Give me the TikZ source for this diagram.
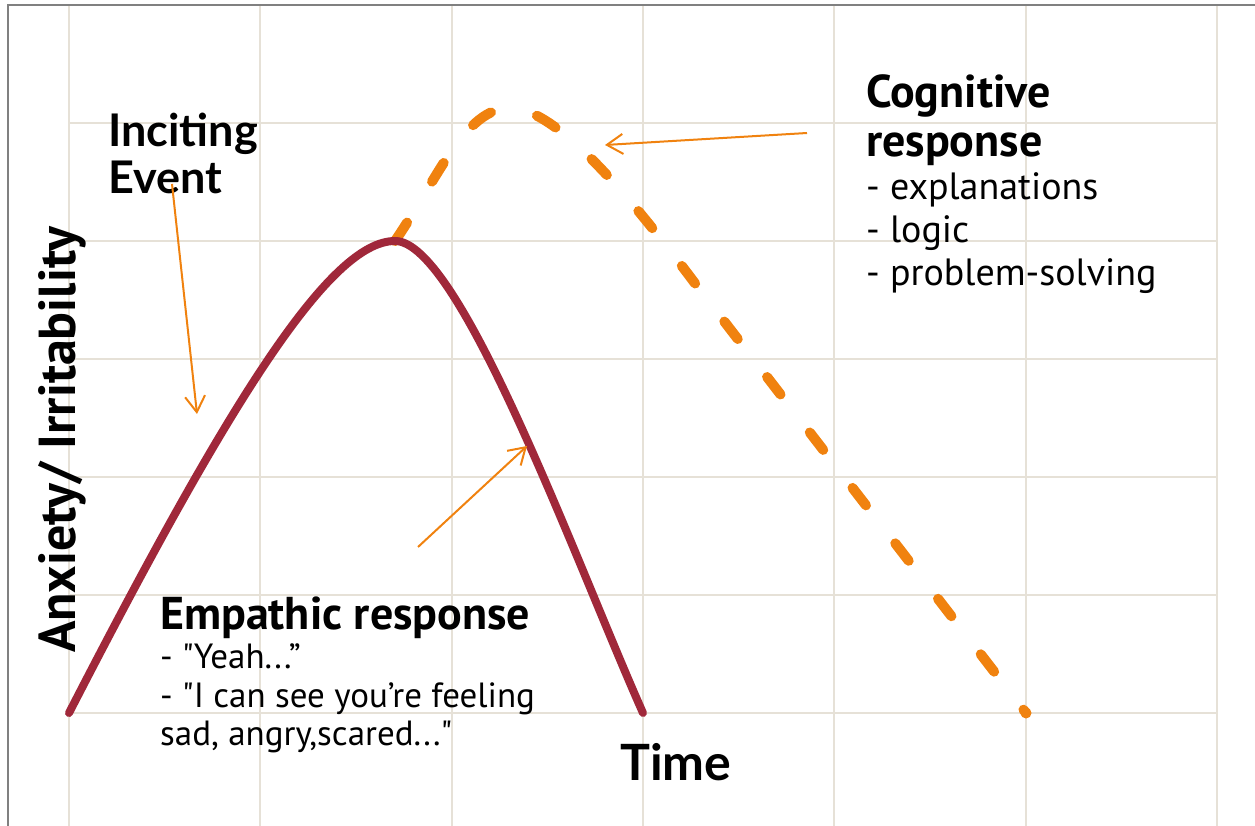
\documentclass[tikz,border=0pt]{standalone}
\usepackage{fontspec}
\setmainfont{PT Sans}
\newfontfamily\latofont{Lato}
\usetikzlibrary{arrows.meta}
\definecolor{gridc}{RGB}{230,225,215}
\definecolor{framec}{RGB}{128,128,128}
\definecolor{curvered}{RGB}{160,40,58}
\definecolor{curveorange}{RGB}{240,130,15}
\begin{document}
\begin{tikzpicture}[x=1pt,y=-1pt,
  gridline/.style={draw=gridc,line width=2pt},
  pointer/.style={draw=curveorange,line width=2pt,-{Straight Barb[length=16pt,width=20pt]}},
  heading/.style={anchor=base west,inner sep=0pt,font=\bfseries\fontsize{46}{46}\selectfont},
  item/.style={anchor=base west,inner sep=0pt,font=\fontsize{38}{38}\selectfont},
  smallitem/.style={anchor=base west,inner sep=0pt,font=\fontsize{35}{35}\selectfont},
  lato/.style={anchor=base west,inner sep=0pt,font=\latofont\bfseries\fontsize{45}{45}\selectfont}]
\useasboundingbox (0,0) rectangle (1255,826);
% background grid
\foreach \x in {69,260,452,643,834,1026,1217}
  \draw[gridline] (\x,5) -- (\x,826);
\foreach \y in {123,241,359,477,595,713}
  \draw[gridline] (69,\y) -- (1217,\y);
% frame
\draw[framec,line width=2pt] (8,826) -- (8,5) -- (1255,5);
% cognitive response curve (dashed)
\draw[curveorange,line width=10pt,line cap=round,dash pattern=on 22pt off 48pt]
  (395,241) .. controls (438,178) and (465,108) .. (510,108)
  .. controls (560,108) and (640,210) .. (700,290) -- (1026,713);
\fill[curveorange] (1026,713) circle (5.5pt);
% empathic response curve
\draw[curvered,line width=8pt,line cap=round]
  (69,713) .. controls (230,400) and (330,241) .. (395,241)
  .. controls (460,241) and (575,560) .. (643,713);
% labels
\node[lato] (inc1) at (108,147) {Inciting};
\node[lato] (inc2) at (108,194) {Event};
\node[heading] (cog1) at (866,108) {Cognitive};
\node[heading] (cog2) at (866,157) {response};
\node[item] (cog3) at (866,200) {- explanations};
\node[item] (cog4) at (866,243) {- logic};
\node[item] (cog5) at (866,286) {- problem-solving};
\node[heading] (emp1) at (160,629) {Empathic response};
\node[smallitem] (emp2) at (160,668) {- \textquotedbl Yeah...”};
\node[smallitem] (emp3) at (160,707) {- \textquotedbl I can see you’re feeling};
\node[smallitem] (emp4) at (160,745) {sad, angry,scared...\textquotedbl};
\node[lato,font=\latofont\bfseries\fontsize{50}{50}\selectfont] (time) at (620,780) {Time};
\node[anchor=base,inner sep=0pt,rotate=90,font=\bfseries\fontsize{52}{52}\selectfont] (ylab) at (75,440) {Anxiety/ Irritability};
% pointers
\coordinate (incStart) at (172,184);
\coordinate (incTip) at (197,414);
\coordinate (empStart) at (418,547);
\coordinate (empTip) at (527,446);
\coordinate (cogStart) at (807,133);
\coordinate (cogTip) at (605,145);
\draw[pointer] (incStart) -- (incTip);
\draw[pointer] (empStart) -- (empTip);
\draw[pointer] (cogStart) -- (cogTip);
\end{tikzpicture}
\end{document}
